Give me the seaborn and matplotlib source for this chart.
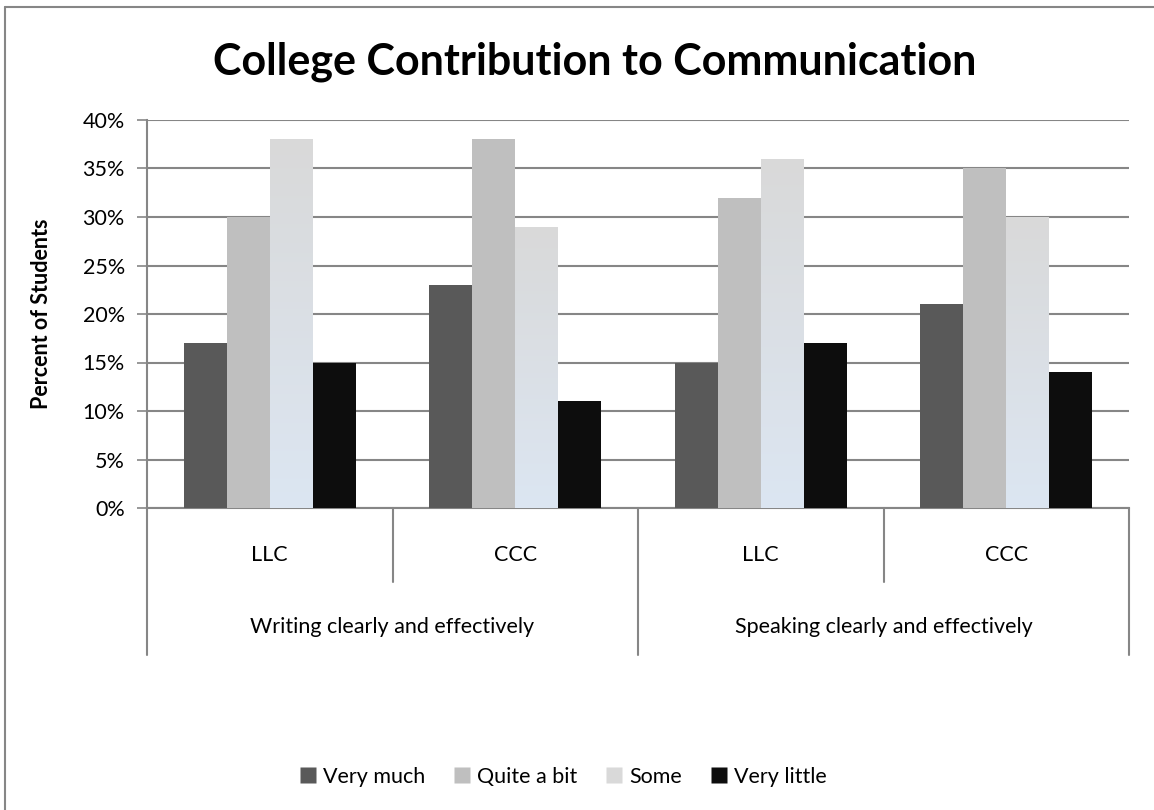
import numpy as np
import pandas as pd
import matplotlib
matplotlib.use("Agg")
import matplotlib.pyplot as plt
from matplotlib.lines import Line2D
from matplotlib.colors import LinearSegmentedColormap
from matplotlib.ticker import PercentFormatter
import seaborn as sns

# 데이터
skills = ["Writing clearly and effectively", "Speaking clearly and effectively"]
groups = ["LLC", "CCC"]
levels = ["Very much", "Quite a bit", "Some", "Very little"]
writing_llc = [17, 30, 38, 15]
writing_ccc = [23, 38, 29, 11]
speaking_llc = [15, 32, 36, 17]
speaking_ccc = [21, 35, 30, 14]

colors = ["#595959", "#bfbfbf", "#d9d9d9", "#0d0d0d"]

rows = []
for skill, grp, vals in [(skills[0], groups[0], writing_llc),
                         (skills[0], groups[1], writing_ccc),
                         (skills[1], groups[0], speaking_llc),
                         (skills[1], groups[1], speaking_ccc)]:
    for lvl, v in zip(levels, vals):
        rows.append({"cat": f"{skill}|{grp}", "level": lvl, "pct": v})
df = pd.DataFrame(rows)
cat_order = list(dict.fromkeys(df["cat"]))

sns.set_theme(style="white")
plt.rcParams["font.family"] = ["Lato", "DejaVu Sans"]
plt.rcParams["text.color"] = "black"
plt.rcParams["axes.labelcolor"] = "black"
plt.rcParams["ytick.labelcolor"] = "black"

fig = plt.figure(figsize=(11.54, 8.10), dpi=100)
ax = fig.add_axes([147 / 1154, 1 - 508 / 810, (1129 - 147) / 1154, (508 - 120) / 810])

sns.barplot(data=df, x="cat", y="pct", hue="level", order=cat_order,
            hue_order=levels, palette=colors, width=0.7, saturation=1,
            edgecolor="none", linewidth=0, ax=ax, legend=False, zorder=3)

# "Some" 막대에 그라데이션
grad = LinearSegmentedColormap.from_list("some", ["#dce6f2", "#d9d9d9"])
for bar in ax.containers[2]:
    x0, y0 = bar.get_x(), bar.get_y()
    w, h = bar.get_width(), bar.get_height()
    bar.set_facecolor("none")
    img = ax.imshow(np.linspace(0, 1, 256).reshape(-1, 1), cmap=grad,
                    extent=[x0, x0 + w, y0, y0 + h], origin="lower",
                    aspect="auto", zorder=3)
    img.set_clip_path(bar)

fs = 15.5
ax.set_xlim(-0.5, 3.5)
ax.set_ylim(0, 40)
ax.set_yticks(np.arange(0, 41, 5))
ax.yaxis.set_major_formatter(PercentFormatter(decimals=0))
ax.yaxis.grid(True, color="#868686", linewidth=1.5, zorder=0)
ax.set_axisbelow(True)
ax.tick_params(axis="y", left=True, length=7, width=1.2, color="#868686",
               labelcolor="black", labelsize=fs, pad=9)
ax.tick_params(axis="x", bottom=False, labelbottom=False)
for s in ["top", "right"]:
    ax.spines[s].set_visible(False)
for s in ["left", "bottom"]:
    ax.spines[s].set_color("#868686")
    ax.spines[s].set_linewidth(1.5)
ax.set_xlabel("")
ax.set_ylabel("Percent of Students", fontsize=fs, fontweight="bold")
ax.yaxis.set_label_coords(-0.097, 0.5)

# 다단 카테고리 축
trans = ax.get_xaxis_transform()
for i, c in enumerate(cat_order):
    ax.text(i, -0.121, c.split("|")[1], transform=trans, ha="center",
            va="center", fontsize=fs)
for j, skill in enumerate(skills):
    ax.text(2 * j + 0.5, -0.307, skill, transform=trans, ha="center",
            va="center", fontsize=fs)
for xb in [0.5, 2.5]:
    ax.plot([xb, xb], [0, -0.191], transform=trans, color="#868686",
            lw=1.5, clip_on=False)
for xb in [-0.5, 1.5, 3.5]:
    ax.plot([xb, xb], [0, -0.379], transform=trans, color="#868686",
            lw=1.5, clip_on=False)

ax.set_title("College Contribution to Communication", fontsize=31,
             fontweight="bold", pad=33, x=0.456, color="black")

# 범례
handles = [Line2D([], [], marker="s", linestyle="none", markersize=12,
                  markerfacecolor=c, markeredgecolor="none") for c in colors]
fig.legend(handles, levels, loc="center", bbox_to_anchor=(0.487, 0.041),
           ncol=4, frameon=False, fontsize=fs, handletextpad=0.2,
           columnspacing=1.2, handlelength=1.0)

# 차트 테두리
fig.add_artist(Line2D([5 / 1154, 5 / 1154], [0, 1 - 7 / 810],
                      color="#868686", lw=1.5))
fig.add_artist(Line2D([5 / 1154, 1], [1 - 7 / 810, 1 - 7 / 810],
                      color="#868686", lw=1.5))

fig.savefig("out.png", dpi=100)
